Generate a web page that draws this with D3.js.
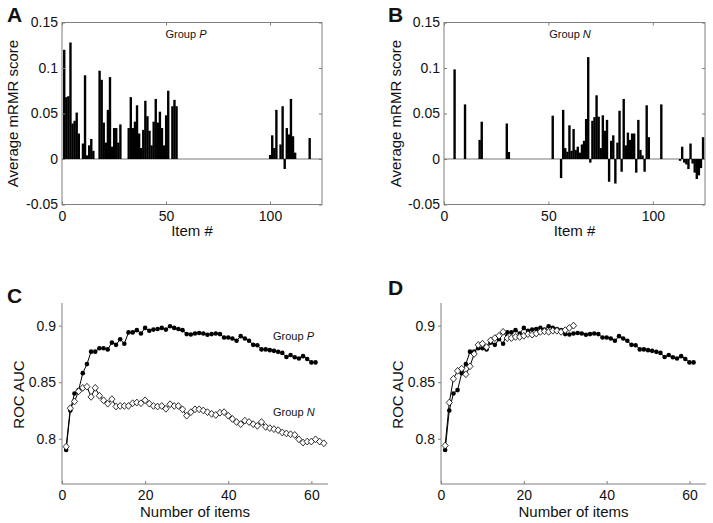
<!DOCTYPE html>
<html><head><meta charset="utf-8">
<script src="https://cdn.jsdelivr.net/npm/d3@7"></script>
<style>
body{margin:0;background:#fff;}
text{font-family:"Liberation Sans",Arial,sans-serif;fill:#111;}
</style></head>
<body><svg id="c" width="713" height="523"></svg>
<script>
// ---------- DATA ----------
const itemTicks = [0, 50, 100];
const scoreTicks = [-0.05, 0, 0.05, 0.1, 0.15];
const nTicks = [0, 20, 40, 60];
const aucTicks = [0.8, 0.85, 0.9];

// Panel A (Group P): item numbers and average mRMR scores
const itemsA = [1,2,3,4,5,6,7,8,10,11,12,13,14,15,18,19,20,21,22,23,24,25,26,27,28,
  32,33,34,35,36,37,38,39,40,41,42,43,44,45,46,47,48,49,50,51,53,54,55,
  100,101,102,103,105,106,107,108,109,110,111,112,119];
const scoresA = [0.120,0.068,0.069,0.128,0.039,0.042,0.051,0.028,0.017,0.092,0.004,0.015,0.022,0.009,
  0.097,0.087,0.040,0.018,0.054,0.090,0.0135,0.034,0.034,0.018,0.038,
  0.034,0.068,0.034,0.041,0.059,0.028,0.012,0.032,0.064,0.047,0.031,0.015,0.041,0.066,0.040,0.052,0.034,0.015,0.048,0.075,0.058,0.065,0.058,
  0.0045,0.026,0.012,0.054,0.016,0.058,-0.011,0.034,0.027,0.066,0.025,0.007,0.023];

// Panel B (Group N)
const itemsB = [5,10,17,18,30,31,52,
  56,57,58,59,60,61,62,63,64,65,66,67,68,69,70,71,72,73,74,75,76,77,78,79,80,81,82,83,84,85,86,87,88,89,90,91,92,93,94,95,96,97,98,
  104,113,114,115,116,117,118,119,120,121,122,123,124];
const scoresB = [0.0985,0.060,0.021,0.041,0.039,0.0077,0.0476,
  -0.021,0.054,0.012,0.008,0.037,0.009,0.033,0.010,0.0135,0.007,0.016,0.020,0.044,0.112,-0.004,0.042,0.046,0.070,0.0465,0.012,0.048,0.031,0.043,-0.025,0.020,0.026,-0.027,0.018,0.053,-0.014,0.066,0.015,0.029,0.021,0.028,0.028,-0.015,0.043,0.010,0.004,-0.014,0.059,0.024,
  0.060,-0.002,0.0135,-0.004,-0.006,-0.011,0.017,-0.005,-0.015,-0.022,-0.018,-0.010,0.024];

// Panels C/D: ROC AUC vs number of items
const aucP = [0.790,0.825,0.840,0.843,0.858,0.866,0.877,0.877,0.880,0.880,0.879,0.885,0.883,0.888,0.884,
  0.894,0.894,0.896,0.893,0.898,0.8955,0.8965,0.897,0.898,0.8965,0.8995,0.898,0.897,0.896,0.8925,
  0.8922,0.893,0.8935,0.893,0.892,0.8925,0.893,0.8925,0.8895,0.8895,0.8886,0.8866,0.8907,0.8886,0.8866,
  0.883,0.8827,0.879,0.879,0.8783,0.8777,0.8768,0.8759,0.8723,0.874,0.872,0.871,0.873,0.8705,0.8675,0.8675];
const aucN = [0.793,0.827,0.833,0.842,0.845,0.846,0.837,0.845,0.838,0.834,0.831,0.835,0.8285,0.829,0.829,
  0.829,0.8314,0.832,0.8314,0.834,0.831,0.829,0.8285,0.829,0.8265,0.8305,0.829,0.829,0.826,0.8204,
  0.8235,0.826,0.826,0.825,0.8235,0.822,0.821,0.823,0.8235,0.8204,0.8175,0.8148,0.8129,0.816,0.8148,
  0.8129,0.8114,0.8148,0.8105,0.8094,0.8085,0.8076,0.8055,0.8047,0.804,0.8034,0.7995,0.7966,0.7975,0.7975,
  0.7995,0.7975,0.796];
const aucND = [0.794,0.832,0.853,0.860,0.862,0.857,0.864,0.875,0.883,0.884,0.881,0.887,0.889,0.891,0.8945,
  0.889,0.889,0.890,0.890,0.891,0.8925,0.892,0.893,0.8945,0.895,0.8945,0.8955,0.8955,0.8945,0.896,0.898,0.900];

// ---------- DRAW ----------
const svg = d3.select("#c");
const axisColor = "#7f7f7f";

function styleAxis(g){
  g.select(".domain").remove();
  g.selectAll(".tick line").attr("stroke", axisColor);
  g.selectAll(".tick text").attr("font-size", 14).attr("fill", "#111");
}

function barPanel(x0, x1, y0, y1, items, scores, letter, letterX, ylabX, groupLabel, groupX){
  const x = d3.scaleLinear().domain([0,125]).range([x0,x1]);
  const y = d3.scaleLinear().domain([-0.05,0.15]).range([y1,y0]);
  const g = svg.append("g");
  const fmt = d => String(+d.toFixed(2));
  g.append("line").attr("x1",x0).attr("x2",x1).attr("y1",y(0)).attr("y2",y(0))
    .attr("stroke","#a6a6a6").attr("stroke-width",1.5);
  const data = items.map((it,i)=>({it, v:scores[i]}));
  g.selectAll("rect.bar").data(data).enter().append("rect")
    .attr("x", d=>x(d.it-0.5)).attr("width", d=>x(d.it+0.5)-x(d.it-0.5)+0.3)
    .attr("y", d=>y(Math.max(0,d.v))).attr("height", d=>Math.abs(y(d.v)-y(0)))
    .attr("fill","#000");
  g.append("rect").attr("x",x0).attr("y",y0).attr("width",x1-x0).attr("height",y1-y0)
    .attr("fill","none").attr("stroke",axisColor).attr("stroke-width",1);
  g.append("g").attr("transform",`translate(0,${y1})`)
    .call(d3.axisBottom(x).tickValues(itemTicks).tickFormat(d3.format("d")).tickSizeInner(-3).tickSizeOuter(0).tickPadding(7))
    .call(styleAxis);
  g.append("g").attr("transform",`translate(${x0},0)`)
    .call(d3.axisLeft(y).tickValues(scoreTicks).tickFormat(fmt).tickSizeInner(-3).tickSizeOuter(0).tickPadding(4))
    .call(styleAxis);
  g.append("g").attr("transform",`translate(0,${y0})`)
    .call(d3.axisTop(x).tickValues(itemTicks).tickFormat("").tickSizeInner(-3).tickSizeOuter(0))
    .call(styleAxis);
  g.append("g").attr("transform",`translate(${x1},0)`)
    .call(d3.axisRight(y).tickValues(scoreTicks).tickFormat("").tickSizeInner(-3).tickSizeOuter(0))
    .call(styleAxis);
  g.append("text").attr("x",(x0+x1)/2).attr("y",236).attr("text-anchor","middle").attr("font-size",15).text("Item #");
  g.append("text").attr("transform",`translate(${ylabX},${(y0+y1)/2}) rotate(-90)`).attr("text-anchor","middle")
    .attr("font-size",15).text("Average mRMR score");
  g.append("text").attr("x",letterX).attr("y",22).attr("font-size",21).attr("font-weight","bold").text(letter);
  const gl = g.append("text").attr("x",groupX).attr("y",38).attr("text-anchor","middle").attr("font-size",11).attr("fill","#222");
  gl.append("tspan").text("Group ");
  gl.append("tspan").attr("font-style","italic").text(groupLabel);
}

function diamond(s){ return `M0,${-s*1.1}L${s},0L0,${s*1.1}L${-s},0Z`; }

function lineSeries(g, x, y, vals, type){
  const pts = vals.map((v,i)=>({n:i+1, v}));
  g.append("path").datum(pts).attr("fill","none").attr("stroke","#000").attr("stroke-width",1)
    .attr("d", d3.line().x(d=>x(d.n)).y(d=>y(d.v)));
  if(type==="circle"){
    g.selectAll(null).data(pts).enter().append("circle")
      .attr("cx",d=>x(d.n)).attr("cy",d=>y(d.v)).attr("r",2.3).attr("fill","#000");
  } else {
    g.selectAll(null).data(pts).enter().append("path")
      .attr("transform",d=>`translate(${x(d.n)},${y(d.v)})`).attr("d",diamond(3.1))
      .attr("fill","#fff").attr("stroke","#000").attr("stroke-width",0.8);
  }
}

function aucPanel(x0, x1, y0, y1, letter, letterX, letterY, ylabX, series){
  const x = d3.scaleLinear().domain([0,64]).range([x0,x1]);
  const y = d3.scaleLinear().domain([0.76,0.92]).range([y1,y0]);
  const g = svg.append("g");
  g.append("line").attr("x1",x0).attr("x2",x0).attr("y1",y0).attr("y2",y1).attr("stroke",axisColor);
  g.append("line").attr("x1",x0).attr("x2",x1).attr("y1",y1).attr("y2",y1).attr("stroke",axisColor);
  g.append("g").attr("transform",`translate(0,${y1})`)
    .call(d3.axisBottom(x).tickValues(nTicks).tickFormat(d3.format("d")).tickSizeInner(-3).tickSizeOuter(0).tickPadding(6))
    .call(styleAxis);
  g.append("g").attr("transform",`translate(${x0},0)`)
    .call(d3.axisLeft(y).tickValues(aucTicks).tickFormat(d=>String(+d.toFixed(2))).tickSizeInner(3).tickSizeOuter(0).tickPadding(3))
    .call(styleAxis);
  series.forEach(s=>lineSeries(g, x, y, s.vals, s.type));
  g.append("text").attr("x",(x0+x1)/2).attr("y",517).attr("text-anchor","middle").attr("font-size",15).text("Number of items");
  g.append("text").attr("transform",`translate(${ylabX},${(y0+y1)/2+1}) rotate(-90)`).attr("text-anchor","middle")
    .attr("font-size",15).text("ROC AUC");
  g.append("text").attr("x",letterX).attr("y",letterY).attr("font-size",21).attr("font-weight","bold").text(letter);
  return g;
}

barPanel(62, 322, 22.5, 204.5, itemsA, scoresA, "A", 7, 18, "P", 186);
barPanel(444, 705, 22.5, 204.5, itemsB, scoresB, "B", 388, 401, "N", 570);

const gC = aucPanel(62, 328, 303, 484, "C", 7, 303, 24, [{vals:aucP,type:"circle"},{vals:aucN,type:"diamond"}]);
function groupLabel(g, x, y, letter){
  const t = g.append("text").attr("x",x).attr("y",y).attr("font-size",11).attr("fill","#222");
  t.append("tspan").text("Group ");
  t.append("tspan").attr("font-style","italic").text(letter);
}
groupLabel(gC, 273, 340, "P");
groupLabel(gC, 273, 416, "N");
aucPanel(441, 706, 303, 484, "D", 388, 295, 403, [{vals:aucP,type:"circle"},{vals:aucND,type:"diamond"}]);
</script></body></html>
